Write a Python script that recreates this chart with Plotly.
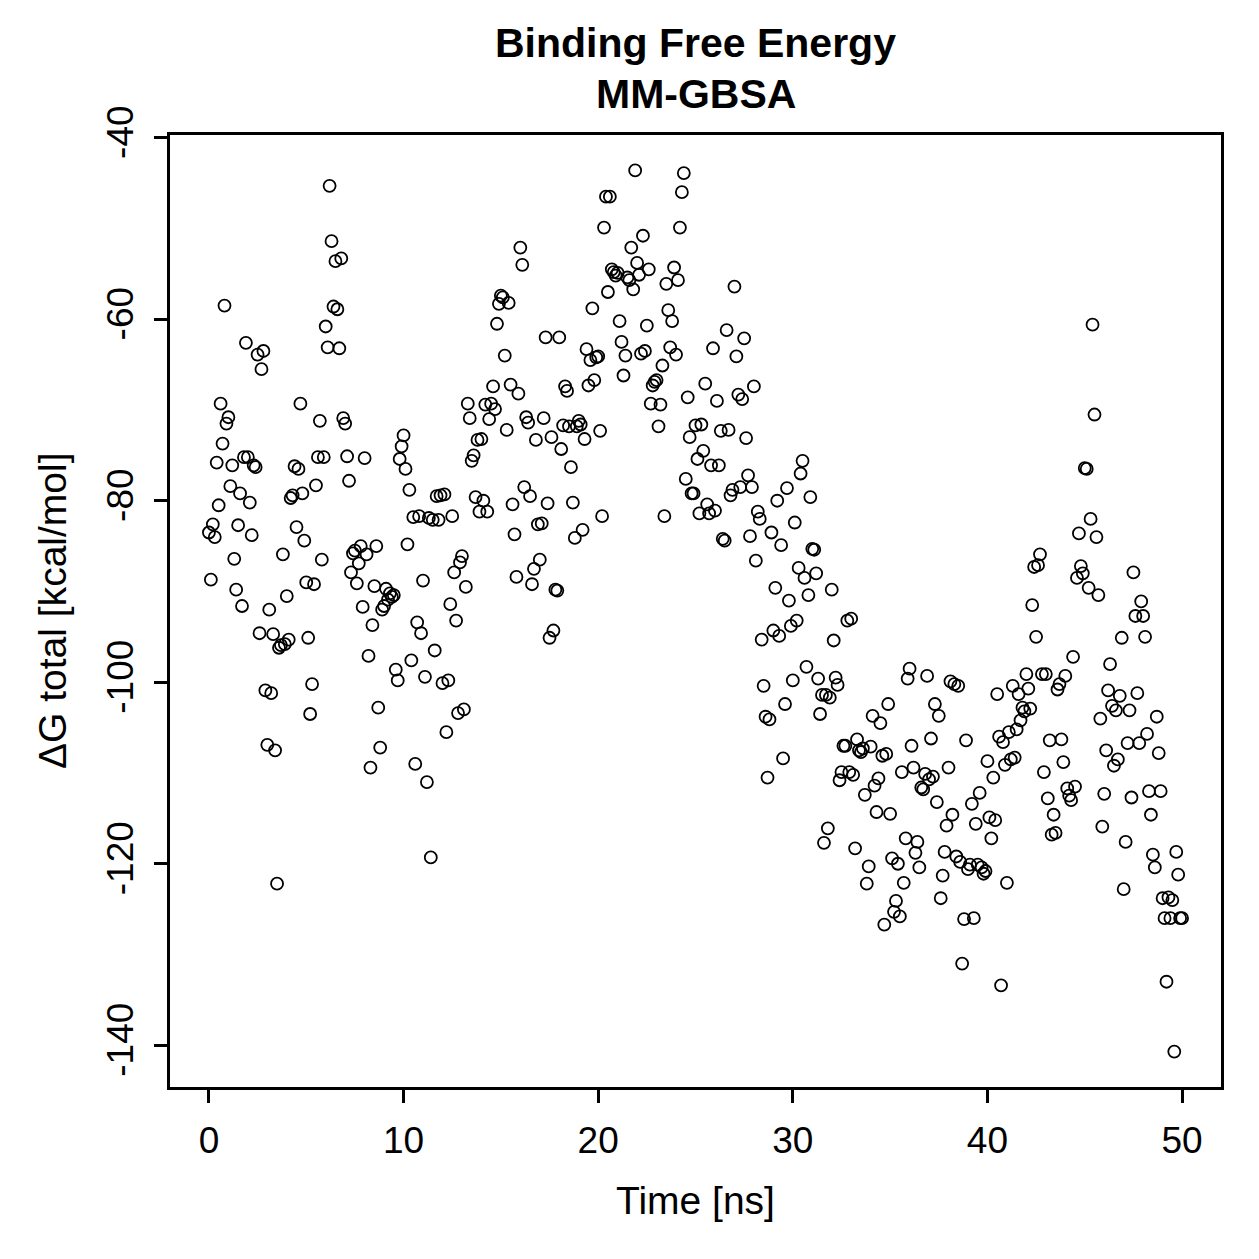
import plotly.graph_objects as go

# Delta G total (kcal/mol), one frame every 0.1 ns
dG_total = [
    -83.5, -88.7, -82.6, -84.0, -75.8, -80.5, -69.3, -73.7, -58.5, -71.5,
    -70.8, -78.4, -76.1, -86.4, -89.8, -82.7, -79.2, -91.6, -75.2, -62.6,
    -75.2, -80.2, -83.8, -76.1, -76.3, -63.9, -94.6, -65.5, -63.5, -100.9,
    -106.9, -92.0, -101.2, -94.7, -107.5, -122.2, -96.2, -95.9, -85.9, -95.8,
    -90.5, -95.3, -79.7, -79.4, -76.2, -82.9, -76.5, -69.3, -79.2, -84.4,
    -89.0, -95.1, -103.5, -100.2, -89.2, -78.3, -75.2, -71.2, -86.5, -75.2,
    -60.8, -63.1, -45.3, -51.4, -58.6, -53.6, -58.9, -63.2, -53.3, -70.9, -71.5,
    -75.1, -77.8, -87.9, -85.8, -85.5, -89.1, -86.9, -85.0, -91.7, -75.3,
    -85.9, -97.1, -109.4, -93.7, -89.4, -85.0, -102.8, -107.2, -92.0, -91.6,
    -89.7, -90.9, -90.2, -90.6, -90.4, -98.6, -99.8, -75.4, -74.0, -72.8,
    -76.5, -84.8, -78.8, -97.6, -81.8, -109.0, -93.4, -81.7, -94.6, -88.8,
    -99.4, -111.0, -81.9, -119.3, -82.1, -96.5, -79.5, -82.1, -79.4, -100.1,
    -79.3, -105.5, -99.8, -91.4, -81.7, -87.9, -93.2, -103.4, -86.8, -86.1,
    -103.0, -89.5, -69.3, -70.9, -75.6, -75.0, -79.6, -73.3, -81.2, -73.2, -80.0,
    -69.4, -81.2, -71.0, -69.3, -67.4, -69.9, -60.5, -58.3, -57.4, -57.6,
    -64.0, -72.2, -58.2, -67.2, -80.4, -83.7, -88.4, -68.2, -52.1, -54.0,
    -78.5, -70.8, -71.4, -79.5, -89.2, -87.5, -73.3, -82.6, -86.5, -82.5,
    -70.9, -62.0, -80.3, -95.1, -73.0, -94.3, -89.8, -89.9, -62.0, -74.3,
    -71.7, -67.4, -67.9, -71.8, -76.3, -80.2, -84.1, -71.8, -71.2, -71.6,
    -83.2, -73.2, -63.3, -67.3, -64.5, -58.8, -66.7, -64.2, -64.1, -72.3,
    -81.7, -49.9, -46.5, -57.0, -46.5, -54.5, -54.8, -55.2, -54.9, -60.2, -62.5,
    -66.2, -64.0, -55.4, -55.7, -52.1, -56.7, -43.6, -53.8, -55.1, -63.8,
    -50.8, -63.5, -60.7, -54.5, -69.3, -67.3, -66.9, -66.7, -71.8, -69.4,
    -65.1, -81.7, -56.1, -59.0, -63.1, -60.2, -54.3, -63.9, -55.7, -49.9,
    -46.0, -43.9, -77.6, -68.6, -73.0, -79.2, -79.2, -71.7, -75.4, -81.4,
    -71.6, -74.5, -67.1, -80.4, -81.4, -76.1, -63.2, -81.1, -69.0, -76.1,
    -72.3, -84.2, -84.4, -61.2, -72.2, -79.4, -78.8, -56.4, -64.1, -68.3,
    -78.5, -68.8, -62.1, -73.1, -77.2, -83.9, -78.5, -67.4, -86.6, -81.2, -82.0,
    -95.3, -100.4, -103.8, -110.5, -104.1, -83.5, -94.3, -89.6, -80.0, -94.9,
    -84.9, -108.4, -102.4, -78.6, -91.0, -93.8, -99.8, -82.4, -93.2, -87.4,
    -77.0, -75.6, -88.5, -98.3, -90.4, -79.6, -85.3, -85.4, -88.0, -99.6,
    -103.5, -101.4, -117.7, -101.4, -116.1, -101.7, -89.8, -95.4, -99.5, -100.3,
    -110.8, -109.9, -107.0, -107.0, -93.2, -109.9, -93.0, -110.2, -118.3, -106.3,
    -107.5, -107.7, -107.3, -112.4, -122.2, -120.3, -107.1, -103.7, -111.4, -114.3,
    -110.6, -104.5, -108.1, -126.7, -107.9, -102.4, -114.5, -119.4, -125.3, -124.1, -120.0,
    -125.8, -109.9, -122.1, -117.2, -99.6, -98.5, -107.0, -109.4, -118.8, -117.6,
    -120.4, -111.6, -111.8, -110.1, -99.3, -110.7, -106.2, -110.4, -102.4, -113.2,
    -103.7, -123.8, -121.3, -118.7, -115.8, -109.4, -99.9, -114.6, -100.2, -119.2,
    -100.4, -119.8, -131.0, -126.1, -106.4, -120.6, -120.1, -113.4, -126.0, -115.6,
    -120.1, -112.2, -120.4, -121.1, -120.8, -108.7, -114.9, -117.2, -110.5, -115.2,
    -101.3, -106.0, -133.4, -106.6, -109.1, -122.1, -105.5, -108.5, -100.4, -108.3,
    -105.2, -101.3, -104.2, -102.8, -103.2, -99.1, -100.7, -102.9, -91.5, -87.3, -95.0,
    -87.1, -85.9, -99.1, -109.9, -99.1, -112.8, -106.4, -116.8, -114.6, -116.6,
    -100.8, -100.2, -106.3, -108.8, -99.3, -111.7, -112.5, -113.0, -97.2, -111.5,
    -88.5, -83.6, -87.2, -88.0, -76.4, -76.5, -89.6, -82.0, -60.6, -70.5,
    -84.0, -90.4, -104.0, -115.9, -112.3, -107.5, -100.9, -98.0, -102.6, -109.2,
    -103.1, -108.5, -101.5, -95.1, -122.8, -117.6, -106.7, -103.1, -112.7, -87.9,
    -92.7, -101.2, -106.7, -91.1, -92.7, -95.0, -105.7, -112.0, -114.6, -119.0,
    -120.4, -103.8, -107.8, -112.0, -123.8, -126.0, -133.0, -123.7, -126.0, -124.0,
    -140.7, -118.7, -121.2, -126.0, -126.0,
]
time_ns = [i / 10 for i in range(len(dG_total))]

x_ticks = [0, 10, 20, 30, 40, 50]
y_ticks = [-140, -120, -100, -80, -60, -40]

title_lines = ["Binding Free Energy", "MM-GBSA"]
x_title = "Time [ns]"
y_title = "ΔG total [kcal/mol]"

FONT = "Liberation Sans, Arial, sans-serif"

fig = go.Figure(
    go.Scatter(
        x=time_ns, y=dG_total, mode="markers",
        marker=dict(symbol="circle-open", size=12, color="black",
                    line=dict(width=1.8, color="black")),
        showlegend=False,
    )
)

axis_common = dict(
    showgrid=False, zeroline=False, showline=True, mirror=True,
    linecolor="black", linewidth=2.5, ticks="outside", ticklen=13,
    tickwidth=2.5, tickcolor="black",
    tickfont=dict(family=FONT, size=37, color="black"),
)

fig.update_xaxes(range=[-2, 52], tickvals=x_ticks,
                 ticktext=[str(v) for v in x_ticks], ticklabelstandoff=6,
                 **axis_common)
fig.update_yaxes(range=[-144.6, -39.7], tickvals=y_ticks,
                 ticktext=[str(v) for v in y_ticks], tickangle=-90,
                 ticklabelstandoff=6, **axis_common)

annots = [
    dict(text="<b>" + title_lines[0] + "</b>", x=0.5, y=1.0965, xref="paper", yref="paper",
         showarrow=False, xanchor="center", yanchor="middle",
         font=dict(family=FONT, size=41, color="black")),
    dict(text="<b>" + title_lines[1] + "</b>", x=0.5, y=1.0435, xref="paper", yref="paper",
         showarrow=False, xanchor="center", yanchor="middle",
         font=dict(family=FONT, size=41, color="black")),
    dict(text=x_title, x=0.5, y=-0.1187, xref="paper", yref="paper",
         showarrow=False, xanchor="center", yanchor="middle",
         font=dict(family=FONT, size=39, color="black")),
    dict(text=y_title, x=-0.1123, y=0.5, xref="paper", yref="paper",
         showarrow=False, xanchor="center", yanchor="middle", textangle=-90,
         font=dict(family=FONT, size=39, color="black")),
]

fig.update_layout(
    width=1259, height=1259,
    margin=dict(l=170, r=38, t=135, b=172),
    plot_bgcolor="white", paper_bgcolor="white",
    annotations=annots,
)

fig.write_html("out.html")
